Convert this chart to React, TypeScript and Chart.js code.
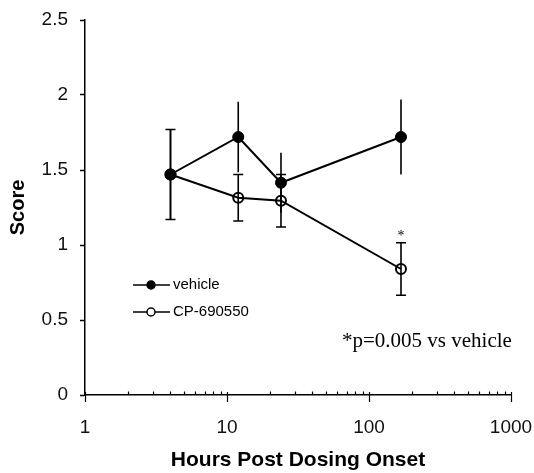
import React, { useEffect, useRef } from "react";
import { Chart, registerables } from "chart.js";

Chart.register(...registerables);

// ---- data ----
const hours = [4, 12, 24, 168];
const vehicleScore = [1.47, 1.72, 1.415, 1.72];
const vehicleErr = [0.3, 0.235, 0.2, 0.25];
const cpScore = [1.47, 1.315, 1.295, 0.84];
const cpErr = [0.3, 0.155, 0.175, 0.175];
const seriesNames = ["vehicle", "CP-690550"];
const xTickLabels = [1, 10, 100, 1000];
const yTickStep = 0.5;
const yRange = [0, 2.5];
const significanceMarks = ["", "", "", "*"];
const noteText = "*p=0.005 vs vehicle";
const xTitle = "Hours Post Dosing Onset";
const yTitle = "Score";

const SANS = "'Liberation Sans', Arial, sans-serif";
const SERIF = "'Liberation Serif', 'Times New Roman', serif";

const errorBarPlugin = {
  id: "errorBars",
  afterDatasetsDraw(chart: any) {
    const { ctx } = chart;
    const x = chart.scales.x;
    const y = chart.scales.y;
    const sets = [
      { v: vehicleScore, e: vehicleErr, cap: false },
      { v: cpScore, e: cpErr, cap: true },
    ];
    ctx.save();
    ctx.strokeStyle = "#000";
    ctx.lineWidth = 1.6;
    sets.forEach((s) => {
      hours.forEach((h, i) => {
        const px = x.getPixelForValue(h);
        const top = y.getPixelForValue(s.v[i] + s.e[i]);
        const bot = y.getPixelForValue(s.v[i] - s.e[i]);
        ctx.beginPath();
        ctx.moveTo(px, top);
        ctx.lineTo(px, bot);
        if (s.cap) {
          ctx.moveTo(px - 5, top);
          ctx.lineTo(px + 5, top);
          ctx.moveTo(px - 5, bot);
          ctx.lineTo(px + 5, bot);
        }
        ctx.stroke();
      });
    });
    ctx.fillStyle = "#000";
    ctx.font = `14px ${SERIF}`;
    ctx.textAlign = "center";
    ctx.textBaseline = "alphabetic";
    significanceMarks.forEach((m, i) => {
      if (!m) return;
      const px = x.getPixelForValue(hours[i]);
      const py = y.getPixelForValue(cpScore[i] + cpErr[i]);
      ctx.fillText(m, px, py - 3);
    });
    ctx.restore();
  },
};

const axisTickPlugin = {
  id: "logTicks",
  afterDraw(chart: any) {
    const { ctx } = chart;
    const x = chart.scales.x;
    const base = chart.chartArea.bottom;
    ctx.save();
    ctx.strokeStyle = "#000";
    ctx.lineWidth = 1.2;
    x.ticks.forEach((t: any) => {
      const px = Math.round(x.getPixelForValue(t.value)) + 0.5;
      const major = xTickLabels.includes(t.value);
      ctx.beginPath();
      ctx.moveTo(px, base - (major ? 3 : 3.5));
      ctx.lineTo(px, base + (major ? 7 : 0));
      ctx.stroke();
    });
    ctx.restore();
  },
};

const legendPlugin = {
  id: "insetLegend",
  afterDraw(chart: any) {
    const { ctx } = chart;
    const x0 = 133, x1 = 170, mx = 151, tx = 173;
    const ys = [285, 312];
    chart.data.datasets.forEach((ds: any, i: number) => {
      ctx.save();
      ctx.strokeStyle = "#000";
      ctx.lineWidth = 1.5;
      ctx.beginPath();
      ctx.moveTo(x0, ys[i]);
      ctx.lineTo(x1, ys[i]);
      ctx.stroke();
      ctx.beginPath();
      ctx.arc(mx, ys[i], 4, 0, Math.PI * 2);
      ctx.fillStyle = i === 0 ? "#000" : "#fff";
      ctx.fill();
      ctx.stroke();
      ctx.fillStyle = "#000";
      ctx.font = `15px ${SANS}`;
      ctx.textAlign = "left";
      ctx.textBaseline = "middle";
      ctx.fillText(ds.label, tx, ys[i]);
      ctx.restore();
    });
    ctx.save();
    ctx.fillStyle = "#000";
    ctx.font = `21px ${SERIF}`;
    ctx.textAlign = "left";
    ctx.textBaseline = "middle";
    ctx.fillText(noteText, 342, 341);
    ctx.restore();
  },
};

export default function App() {
  const ref = useRef<HTMLCanvasElement | null>(null);

  useEffect(() => {
    if (!ref.current) return;
    const chart = new Chart(ref.current, {
      type: "line",
      data: {
        datasets: [
          {
            label: seriesNames[0],
            data: hours.map((h, i) => ({ x: h, y: vehicleScore[i] })),
            borderColor: "#000",
            borderWidth: 2,
            pointRadius: 5.5,
            pointBackgroundColor: "#000",
            pointBorderColor: "#000",
            pointBorderWidth: 1,
            tension: 0,
          },
          {
            label: seriesNames[1],
            data: hours.map((h, i) => ({ x: h, y: cpScore[i] })),
            borderColor: "#000",
            borderWidth: 2,
            pointRadius: 5,
            pointBackgroundColor: "rgba(0,0,0,0)",
            pointBorderColor: "#000",
            pointBorderWidth: 2,
            tension: 0,
          },
        ],
      },
      options: {
        animation: false,
        responsive: false,
        layout: { padding: { top: 20, right: 23, left: 0, bottom: 0 } },
        plugins: { legend: { display: false }, tooltip: { enabled: false } },
        scales: {
          x: {
            type: "logarithmic",
            min: xTickLabels[0],
            max: xTickLabels[xTickLabels.length - 1],
            afterBuildTicks: (scale: any) => {
              const ticks: any[] = [];
              for (let d = 0; d < xTickLabels.length - 1; d++) {
                for (let k = 1; k < 10; k++) ticks.push({ value: xTickLabels[d] * k });
              }
              ticks.push({ value: xTickLabels[xTickLabels.length - 1] });
              scale.ticks = ticks;
            },
            ticks: {
              autoSkip: false,
              maxRotation: 0,
              minRotation: 0,
              padding: 21,
              color: "#111",
              font: { family: SANS, size: 19 },
              callback: (v: any) => (xTickLabels.includes(Number(v)) ? String(v) : ""),
            },
            grid: { display: true, drawOnChartArea: false, drawTicks: false },
            border: { display: true, color: "#000", width: 1.5 },
            title: {
              display: true,
              text: xTitle,
              color: "#000",
              font: { family: SANS, size: 21, weight: "bold" },
              padding: { top: 0, bottom: 0 },
            },
            afterFit: (s: any) => {
              s.height = 78;
              s.paddingLeft = 0;
              s.paddingRight = 0;
            },
          },
          y: {
            min: yRange[0],
            max: yRange[1],
            ticks: {
              stepSize: yTickStep,
              padding: 12,
              color: "#111",
              font: { family: SANS, size: 19 },
              callback: (v: any) => String(Number(v)),
            },
            grid: { drawOnChartArea: false, tickLength: 5, tickColor: "#000", tickWidth: 1.5 },
            border: { display: true, color: "#000", width: 1.5 },
            title: {
              display: true,
              text: yTitle,
              color: "#000",
              font: { family: SANS, size: 20, weight: "bold" },
              padding: { top: 6, bottom: 0 },
            },
            afterFit: (s: any) => {
              s.width = 85;
              s.paddingTop = 0;
              s.paddingBottom = 0;
            },
          },
        },
      } as any,
      plugins: [errorBarPlugin, axisTickPlugin, legendPlugin],
    });
    return () => chart.destroy();
  }, []);

  return (
    <div style={{ position: "absolute", left: 0, top: 0, width: 534, height: 473, background: "#fff" }}>
      <canvas ref={ref} width={534} height={473} style={{ display: "block" }} />
    </div>
  );
}
